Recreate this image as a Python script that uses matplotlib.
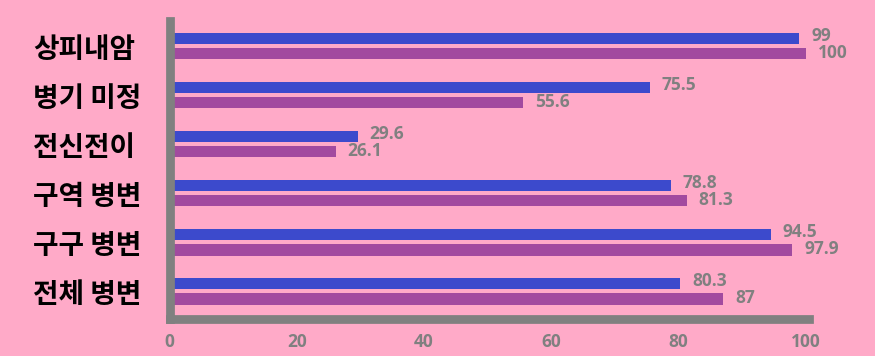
import matplotlib
matplotlib.use("Agg")
import matplotlib.pyplot as plt
import matplotlib.transforms as mtransforms

categories = ["상피내암", "병기 미정", "전신전이", "구역 병변", "구구 병변", "전체 병변"]
series_a = [99, 75.5, 29.6, 78.8, 94.5, 80.3]
series_b = [100, 55.6, 26.1, 81.3, 97.9, 87]
x_ticks = [0, 20, 40, 60, 80, 100]

BG = "#ffaac8"
BLUE = "#3c4acc"
PURPLE = "#a24a9f"
GRAY = "#808080"

W, H = 875, 356
fig = plt.figure(figsize=(W / 100, H / 100), dpi=100, facecolor=BG)
left_px, right_px, top_px, bot_px = 169.5, 809, 21, 319
ax = fig.add_axes([left_px / W, 1 - bot_px / H, (right_px - left_px) / W, (bot_px - top_px) / H])
ax.set_facecolor(BG)

n = len(categories)
ys = list(range(n))
off = 0.157
bh = 0.235
ax.barh([y - off for y in ys], series_a, height=bh, color=BLUE, zorder=1)
ax.barh([y + off for y in ys], series_b, height=bh, color=PURPLE, zorder=1)

ax.set_xlim(0, 100.5)
ax.set_ylim(5.57, -0.51)

vfont = dict(color=GRAY, fontsize=12.5, fontweight="bold", family=["Open Sans", "DejaVu Sans"])
for y, v in zip(ys, series_a):
    ax.annotate(f"{v:g}", (v, y - off), xytext=(8.5, 1.5), textcoords="offset points",
                ha="left", va="center", **vfont)
for y, v in zip(ys, series_b):
    ax.annotate(f"{v:g}", (v, y + off), xytext=(8.5, 0.5), textcoords="offset points",
                ha="left", va="center", **vfont)

trans = mtransforms.blended_transform_factory(fig.transFigure, ax.transData)
for y, c in zip(ys, categories):
    ax.text(33 / W, y + 0.09, c, transform=trans, ha="left", va="center",
            fontsize=20, fontweight="bold", color="black",
            family=["Noto Sans CJK KR", "DejaVu Sans"])

ax.set_yticks([])
ax.set_xticks(x_ticks)
ax.set_xticklabels([str(t) for t in x_ticks], **vfont)
ax.tick_params(axis="x", length=0, pad=10)

for s in ["top", "right"]:
    ax.spines[s].set_visible(False)
for s in ["left", "bottom"]:
    ax.spines[s].set_color(GRAY)
    ax.spines[s].set_linewidth(6.3)
    ax.spines[s].set_zorder(3)

fig.savefig("out.png", dpi=100, facecolor=BG)
